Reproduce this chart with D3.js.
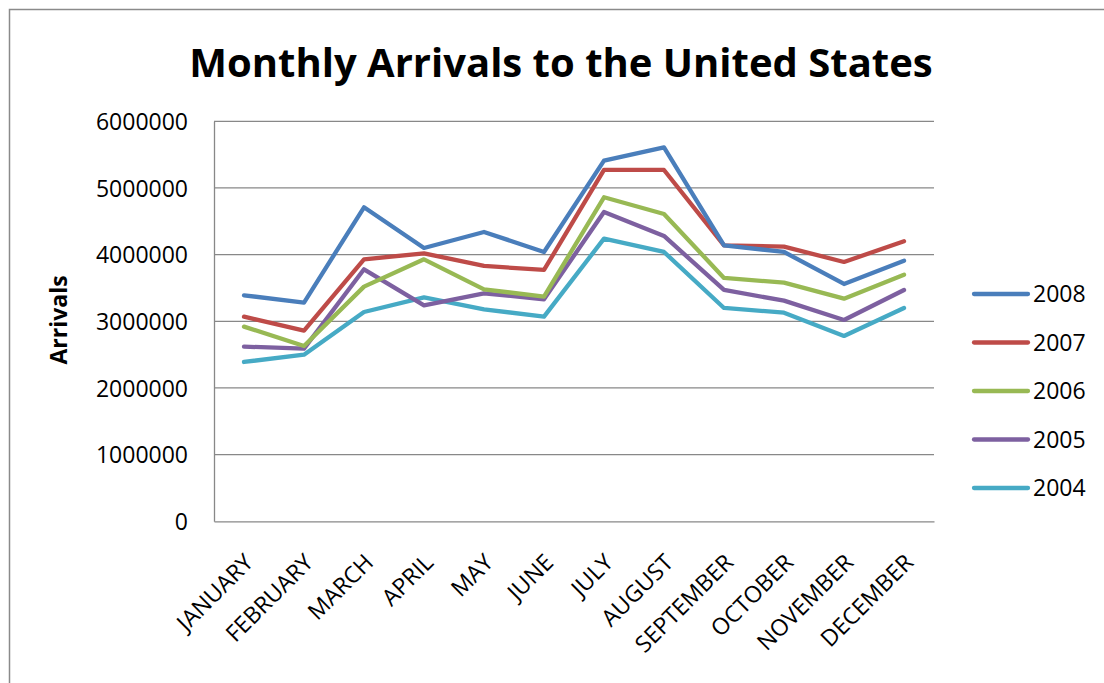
<!DOCTYPE html>
<html>
<head>
<meta charset="utf-8">
<script src="https://cdn.jsdelivr.net/npm/d3@7"></script>
<style>
  html, body { margin: 0; padding: 0; background: #fff; }
  svg { display: block; }
  text { font-family: "Open Sans", "Liberation Sans", sans-serif; fill: #000; }
</style>
</head>
<body>
<svg id="chart" width="1104" height="683"></svg>
<script>
// Monthly arrivals, one array per year
const months = ["JANUARY", "FEBRUARY", "MARCH", "APRIL", "MAY", "JUNE",
                "JULY", "AUGUST", "SEPTEMBER", "OCTOBER", "NOVEMBER", "DECEMBER"];
const years = ["2008", "2007", "2006", "2005", "2004"];
const arrivals2008 = [3390000, 3280000, 4710000, 4100000, 4340000, 4040000, 5410000, 5610000, 4140000, 4040000, 3560000, 3910000];
const arrivals2007 = [3070000, 2860000, 3930000, 4020000, 3830000, 3770000, 5270000, 5270000, 4140000, 4120000, 3890000, 4200000];
const arrivals2006 = [2920000, 2630000, 3520000, 3930000, 3480000, 3370000, 4860000, 4610000, 3650000, 3580000, 3340000, 3700000];
const arrivals2005 = [2620000, 2590000, 3780000, 3240000, 3420000, 3330000, 4640000, 4280000, 3470000, 3310000, 3020000, 3470000];
const arrivals2004 = [2390000, 2500000, 3140000, 3360000, 3180000, 3070000, 4240000, 4040000, 3200000, 3130000, 2780000, 3200000];
const yTicks = [0, 1000000, 2000000, 3000000, 4000000, 5000000, 6000000];
const colors = ["#4A7EBB", "#BE4B48", "#98B954", "#7D60A0", "#46AAC5"];

const seriesValues = [arrivals2008, arrivals2007, arrivals2006, arrivals2005, arrivals2004];
const series = years.map((y, i) => ({ year: y, values: seriesValues[i], color: colors[i] }));

const svg = d3.select("#chart");

// outer chart frame
svg.append("rect")
  .attr("x", 9.5).attr("y", 9.5)
  .attr("width", 1110).attr("height", 700)
  .attr("fill", "#fff").attr("stroke", "#8a8a8a").attr("stroke-width", 1.5);

const plot = { left: 214, right: 934, top: 121.3, bottom: 521.3 };

const x = d3.scaleBand().domain(months).range([plot.left, plot.right]);
const y = d3.scaleLinear().domain([0, 6000000]).range([plot.bottom, plot.top]);

// gridlines
svg.append("g")
  .selectAll("line")
  .data(yTicks.filter(d => d > 0))
  .join("line")
  .attr("x1", plot.left).attr("x2", plot.right)
  .attr("y1", d => y(d)).attr("y2", d => y(d))
  .attr("stroke", "#888").attr("stroke-width", 1.3);

// y axis
const yAxis = svg.append("g")
  .attr("transform", `translate(${plot.left},0)`)
  .call(d3.axisLeft(y).tickValues(yTicks).tickSize(0).tickPadding(26).tickFormat(d3.format("d")));
yAxis.select(".domain").attr("stroke", "#888").attr("stroke-width", 1.3);
yAxis.selectAll("text")
  .style("font-size", "23px")
  .attr("fill", "#222")
  .attr("dy", "0.36em");

// x axis
const xAxis = svg.append("g")
  .attr("transform", `translate(0,${plot.bottom})`)
  .call(d3.axisBottom(x).tickSize(0).tickPadding(0));
xAxis.select(".domain").attr("stroke", "#888").attr("stroke-width", 1.3);
xAxis.selectAll(".tick text")
  .style("font-size", "23px")
  .attr("fill", "#222")
  .attr("text-anchor", "end")
  .attr("x", 0).attr("y", 0).attr("dy", "0.35em")
  .attr("transform", "translate(5,37) rotate(-45)");

// lines
const line = d3.line()
  .x((d, i) => x(months[i]) + x.bandwidth() / 2)
  .y(d => y(d));

svg.append("g")
  .selectAll("path")
  .data(series.slice().reverse())
  .join("path")
  .attr("d", d => line(d.values))
  .attr("fill", "none")
  .attr("stroke", d => d.color)
  .attr("stroke-width", 4.3)
  .attr("stroke-linejoin", "round")
  .attr("stroke-linecap", "round");

// title
svg.append("text")
  .attr("x", 561).attr("y", 77)
  .attr("text-anchor", "middle")
  .style("font-size", "40px")
  .style("font-weight", "bold")
  .text("Monthly Arrivals to the United States");

// y axis title
svg.append("text")
  .attr("transform", "translate(67,320) rotate(-90)")
  .attr("text-anchor", "middle")
  .style("font-size", "23px")
  .style("font-weight", "bold")
  .text("Arrivals");

// legend
const legend = svg.append("g")
  .selectAll("g")
  .data(series)
  .join("g")
  .attr("transform", (d, i) => `translate(974,${294 + i * 48.5})`);
legend.append("line")
  .attr("x1", 0).attr("x2", 54)
  .attr("stroke", d => d.color)
  .attr("stroke-width", 4.3)
  .attr("stroke-linecap", "round");
legend.append("text")
  .attr("x", 59).attr("dy", "0.36em")
  .style("font-size", "23px")
  .attr("fill", "#222")
  .text(d => d.year);
</script>
</body>
</html>
